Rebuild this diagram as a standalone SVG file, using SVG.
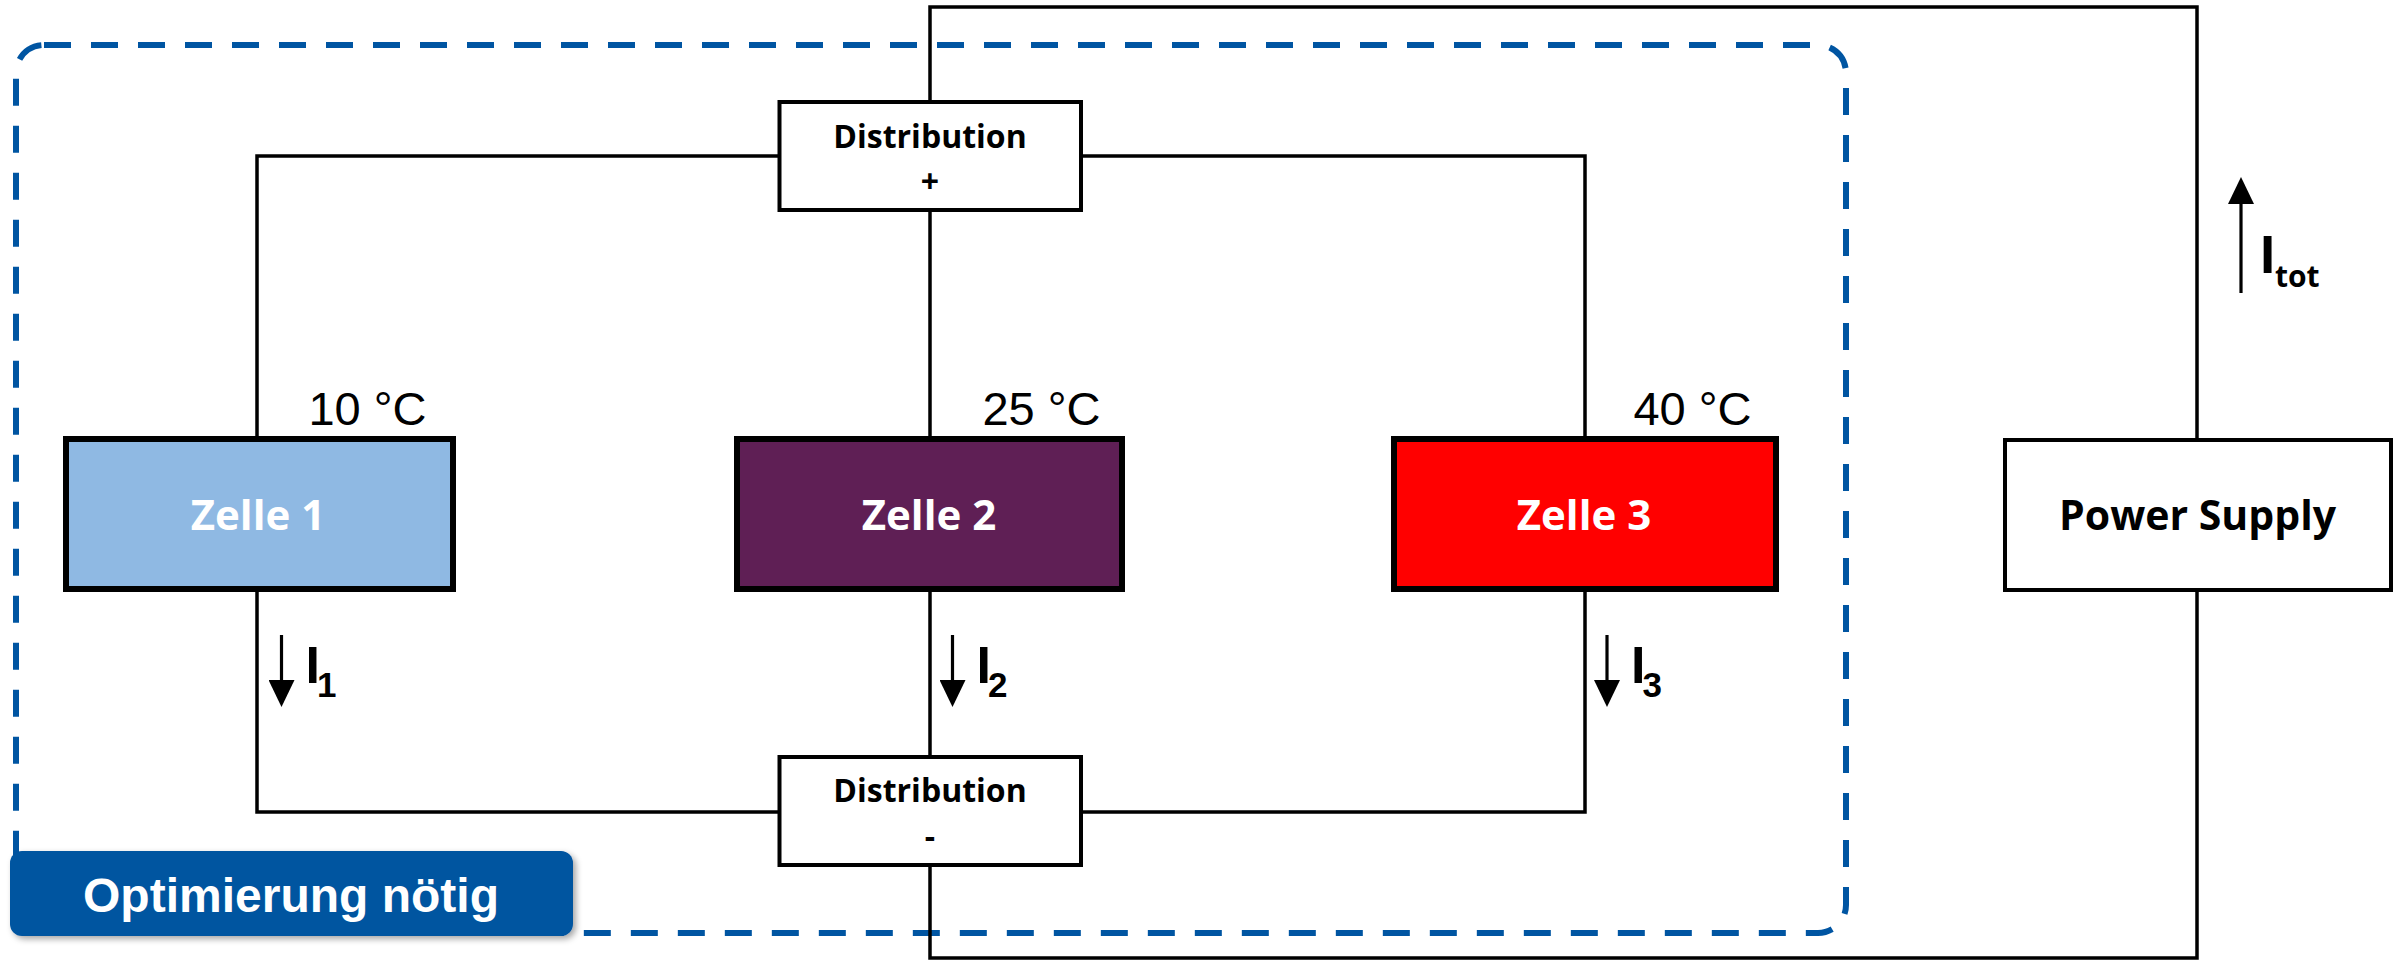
<svg xmlns="http://www.w3.org/2000/svg" width="2399" height="960" viewBox="0 0 2399 960">
<style>
.wire{fill:none;stroke:#000;stroke-width:3.5;stroke-linejoin:miter}
.arrow{fill:none;stroke:#000;stroke-width:3.2}
.box{fill:#fff;stroke:#000;stroke-width:4}
.cell{stroke:#000;stroke-width:6}
.dist{font-family:"Open Sans","DejaVu Sans",sans-serif;font-weight:bold;font-size:32px;fill:#000;text-anchor:middle}
.cellt{font-family:"Open Sans","DejaVu Sans",sans-serif;font-weight:bold;font-size:42px;fill:#fff;text-anchor:middle}
.temp{font-family:"Liberation Sans",Arial,sans-serif;font-size:47px;fill:#000;text-anchor:middle}
.cur{font-family:"Liberation Sans",Arial,sans-serif;font-weight:bold;fill:#000}
.ot{font-family:"Open Sans","DejaVu Sans",sans-serif;font-weight:bold;fill:#000}
</style>
<defs>
<marker id="ah" markerUnits="userSpaceOnUse" markerWidth="27" markerHeight="26" refX="0" refY="13" orient="auto">
<path d="M0,0 L27,13 L0,26 Z" fill="#000"/>
</marker>
<filter id="sh" x="-5%" y="-15%" width="115%" height="140%">
<feDropShadow dx="3" dy="3" stdDeviation="3" flood-color="#000" flood-opacity="0.35"/>
</filter>
</defs>
<rect width="2399" height="960" fill="#fff"/>

<g id="optimization-area">
<rect x="16" y="45" width="1830" height="888" rx="28" ry="28" fill="none" stroke="#0055A2" stroke-width="6" stroke-dasharray="27 20"/>
</g>

<g id="connectors">
<path class="wire" d="M930 102 V7 H2197 V440"/>
<path class="wire" d="M2197 590 V958 H930 V865"/>
<path class="wire" d="M779 156 H257 V439"/>
<path class="wire" d="M930 210 V439"/>
<path class="wire" d="M1081 156 H1585 V439"/>
<path class="wire" d="M257 589 V812 H779"/>
<path class="wire" d="M930 589 V757"/>
<path class="wire" d="M1585 589 V812 H1081"/>
<line class="arrow" x1="281.5" y1="635" x2="281.5" y2="680" marker-end="url(#ah)"/>
<line class="arrow" x1="952.5" y1="635" x2="952.5" y2="680" marker-end="url(#ah)"/>
<line class="arrow" x1="1607" y1="635" x2="1607" y2="680" marker-end="url(#ah)"/>
<line class="arrow" x1="2241" y1="293" x2="2241" y2="204" marker-end="url(#ah)"/>
</g>

<g id="dist-plus">
<rect class="box" x="779.5" y="102" width="301.5" height="108"/>
<text class="dist" x="930" y="147.5">Distribution</text>
<text class="dist" x="930" y="193">+</text>
</g>

<g id="dist-minus">
<rect class="box" x="779.5" y="757" width="301.5" height="108"/>
<text class="dist" x="930" y="802">Distribution</text>
<text class="dist" x="930" y="848">-</text>
</g>

<g id="zelle1">
<rect class="cell" x="66" y="439" width="387" height="150" fill="#8FB9E3"/>
<text class="cellt" x="258" y="530">Zelle 1</text>
<text class="temp" x="367.5" y="425">10 °C</text>
</g>

<g id="zelle2">
<rect class="cell" x="737" y="439" width="385" height="150" fill="#5F1F55"/>
<text class="cellt" x="929" y="530">Zelle 2</text>
<text class="temp" x="1041.5" y="425">25 °C</text>
</g>

<g id="zelle3">
<rect class="cell" x="1394" y="439" width="382" height="150" fill="#FF0000"/>
<text class="cellt" x="1584" y="530">Zelle 3</text>
<text class="temp" x="1692.5" y="425">40 °C</text>
</g>

<g id="power-supply">
<rect class="box" x="2005" y="440" width="386" height="150"/>
<text class="ot" x="2197.5" y="530" font-size="41" text-anchor="middle">Power Supply</text>
</g>

<g id="current-labels">
<text class="cur" x="305.5" y="683" font-size="52">I</text>
<text class="cur" x="317" y="697" font-size="35">1</text>
<text class="cur" x="976.5" y="683" font-size="52">I</text>
<text class="cur" x="988" y="697" font-size="35">2</text>
<text class="cur" x="1631" y="683" font-size="52">I</text>
<text class="cur" x="1642.5" y="697" font-size="35">3</text>
<text class="ot" x="2259" y="273" font-size="52">I</text>
<text class="ot" x="2275" y="287" font-size="30">tot</text>
</g>

<g id="badge">
<rect x="10" y="851" width="563" height="85" rx="12" ry="12" fill="#0054A0" filter="url(#sh)"/>
<text x="291" y="912" font-family="'Liberation Sans',Arial,sans-serif" font-weight="bold" font-size="48" fill="#fff" text-anchor="middle">Optimierung nötig</text>
</g>
</svg>
